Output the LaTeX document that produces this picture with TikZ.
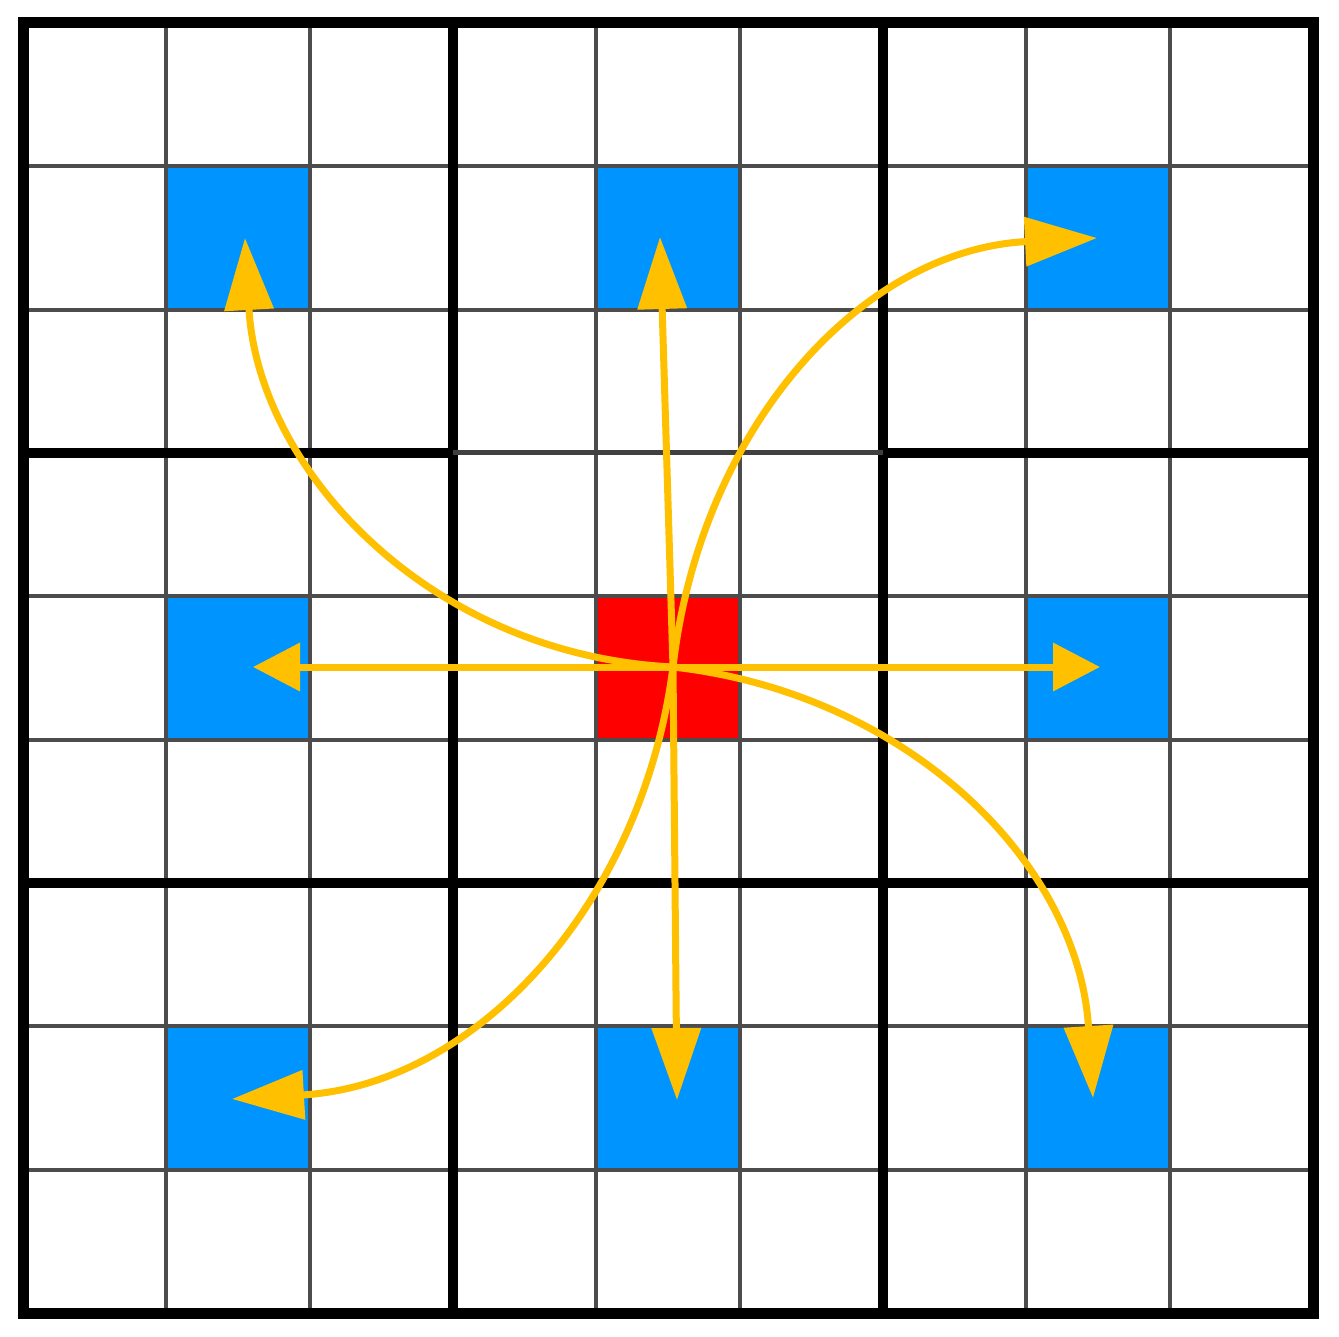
\documentclass[tikz,border=0pt]{standalone}
\usetikzlibrary{arrows.meta}
\definecolor{cellblue}{RGB}{0,148,255}
\definecolor{cellred}{RGB}{255,0,0}
\definecolor{arrowc}{RGB}{255,192,0}
\begin{document}
\begin{tikzpicture}[x=1pt,y=-1pt,
  cell/.style={minimum size=143.33pt, inner sep=0pt, outer sep=0pt, draw=none},
  bluecell/.style={cell, fill=cellblue},
  redcell/.style={cell, fill=cellred},
  thingrid/.style={line width=4pt, draw=black!70},
  thickgrid/.style={line width=9.5pt, draw=black},
  outergrid/.style={line width=11pt, draw=black},
  arrowline/.style={draw=arrowc, line width=7pt},
  longhead/.style={arrowline, -{Triangle[length=72pt,width=48pt]}},
  shorthead/.style={arrowline, -{Triangle[length=47pt,width=47pt]}}
]
\useasboundingbox (0,0) rectangle (1339,1337);
\fill[white] (0,0) rectangle (1339,1337);

% coloured cells
\node[bluecell] (b11) at (238,238) {};
\node[bluecell] (b14) at (668,238) {};
\node[bluecell] (b17) at (1098,238) {};
\node[bluecell] (b41) at (238,668) {};
\node[redcell]  (r44) at (668,668) {};
\node[bluecell] (b47) at (1098,668) {};
\node[bluecell] (b71) at (238,1098) {};
\node[bluecell] (b74) at (668,1098) {};
\node[bluecell] (b77) at (1098,1098) {};

% grid
\foreach \k in {1,2,4,5,7,8}{
  \draw[thingrid] ({23+\k*143.33},23) -- ({23+\k*143.33},1313);
  \draw[thingrid] (23,{23+\k*143.33}) -- (1313,{23+\k*143.33});
}
\draw[thickgrid] ({23+3*143.33},23) -- ({23+3*143.33},1313);
\draw[thickgrid] ({23+6*143.33},23) -- ({23+6*143.33},1313);
\draw[thickgrid] (23,{23+3*143.33}) -- ({23+3*143.33},{23+3*143.33});
\draw[line width=5pt, draw=black!75] ({23+3*143.33},{23+3*143.33}) -- ({23+6*143.33},{23+3*143.33});
\draw[thickgrid] ({23+6*143.33},{23+3*143.33}) -- (1313,{23+3*143.33});
\draw[thickgrid] (23,{23+6*143.33}) -- (1313,{23+6*143.33});
\draw[outergrid, line join=miter] (23,23) rectangle (1313,1313);

% arrow ends
\coordinate (C) at (673,667);
\coordinate (tUp) at (660,237);
\coordinate (tDown) at (677,1100);
\coordinate (tLeft) at (253,667);
\coordinate (tRight) at (1100,667);
\coordinate (tTL) at (245,238);
\coordinate (tTR) at (1097,238);
\coordinate (tBR) at (1093,1098);
\coordinate (tBL) at (232,1099);

% curved arrows
\draw[longhead] (C) .. controls (430,655) and (258,470) .. (tTL);
\draw[longhead] (C) .. controls (700,430) and (860,250) .. (tTR);
\draw[longhead] (C) .. controls (905,693) and (1078,860) .. (tBR);
\draw[longhead] (C) .. controls (642,906) and (475,1085) .. (tBL);

% straight arrows
\draw[longhead] (C) -- (tUp);
\draw[longhead] (C) -- (tDown);
\draw[shorthead] (C) -- (tLeft);
\draw[shorthead] (C) -- (tRight);
\end{tikzpicture}
\end{document}
